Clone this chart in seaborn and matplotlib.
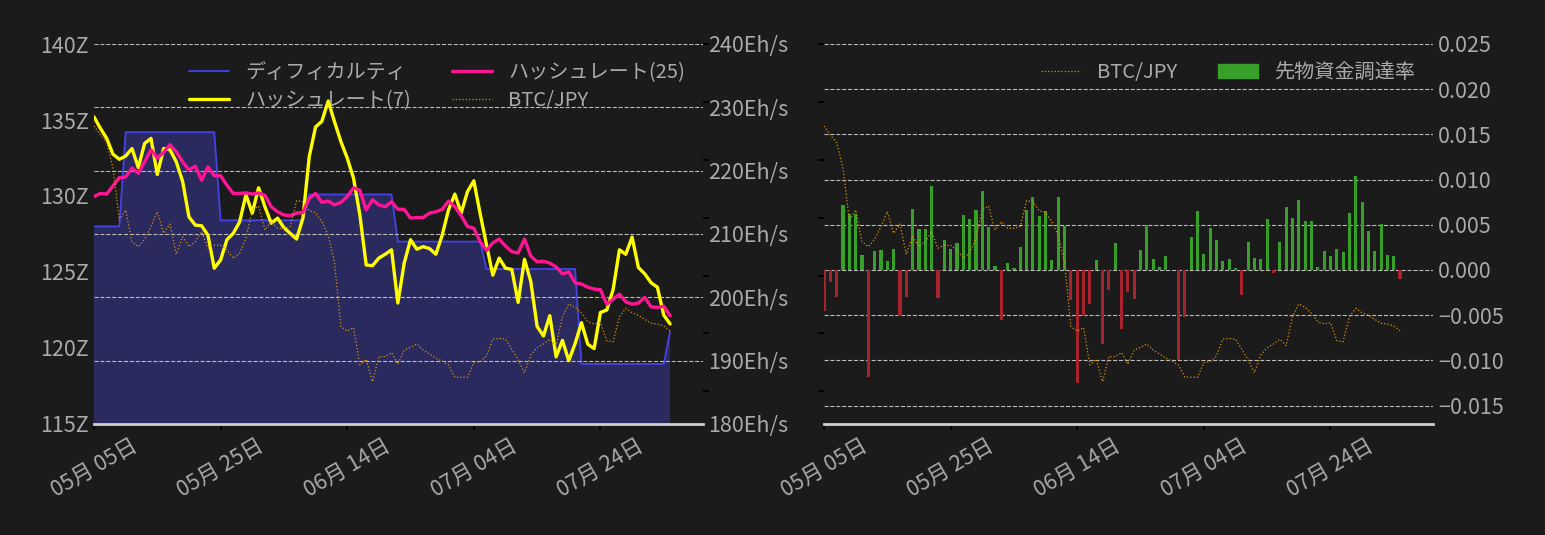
import pandas as pd
import matplotlib.pyplot as plt
import matplotlib.dates as mdates
from matplotlib.ticker import FuncFormatter, MultipleLocator
from matplotlib.patches import Patch
import seaborn as sns

# ── style ─────────────────────────────────────────────────────────────────────
BG = "#1b1b1b"
TXT = "#aaaaaa"
sns.set_theme(style="dark", rc={
    "figure.facecolor": BG, "axes.facecolor": BG, "savefig.facecolor": BG,
    "axes.edgecolor": BG, "text.color": TXT,
    "xtick.color": "black", "ytick.color": "black",
    "xtick.bottom": True, "ytick.left": True,
    "grid.color": "#bbbbbb", "grid.linestyle": "--", "grid.linewidth": 0.8,
})
plt.rcParams["font.family"] = ["Noto Sans CJK JP", "DejaVu Sans"]
FS_TICK = 15.5
FS_LEG = 14.5

# ── data (daily, from 05-05) ──────────────────────────────────────────────────
start = "2022-05-05"
difficulty = [
    128.0, 128.0, 128.0, 128.0, 128.0, 134.2, 134.2, 134.2, 134.2, 134.2,
    134.2, 134.2, 134.2, 134.2, 134.2, 134.2, 134.2, 134.2, 134.2, 134.2,
    128.4, 128.4, 128.4, 128.4, 128.4, 128.4, 128.4, 128.4, 128.4, 128.4,
    128.4, 128.4, 128.4, 128.4, 130.1, 130.1, 130.1, 130.1, 130.1, 130.1,
    130.1, 130.1, 130.1, 130.1, 130.1, 130.1, 130.1, 130.1, 127.0, 127.0,
    127.0, 127.0, 127.0, 127.0, 127.0, 127.0, 127.0, 127.0, 127.0, 127.0,
    127.0, 127.0, 125.2, 125.2, 125.2, 125.2, 125.2, 125.2, 125.2, 125.2,
    125.2, 125.2, 125.2, 125.2, 125.2, 125.2, 125.2, 118.95, 118.95, 118.95,
    118.95, 118.95, 118.95, 118.95, 118.95, 118.95, 118.95, 118.95, 118.95, 118.95,
    118.95, 121.07,
]
hashrate7 = [
    228.5, 226.7, 225.1, 222.6, 221.8, 222.3, 223.5, 220.5, 224.3, 225.1,
    219.4, 223.5, 223.3, 221.4, 218.3, 212.7, 211.4, 211.3, 209.8, 204.6,
    205.9, 209.1, 210.1, 211.9, 216.2, 213.3, 217.3, 214.3, 211.7, 212.5,
    211.0, 210.1, 209.2, 212.5, 222.2, 226.9, 227.8, 231.0, 227.7, 224.6,
    222.0, 218.8, 213.0, 205.1, 205.0, 206.2, 206.8, 207.5, 199.1, 205.4,
    209.1, 207.6, 208.0, 207.7, 206.8, 209.8, 213.8, 216.3, 213.3, 216.7,
    218.4, 213.2, 208.3, 203.5, 206.2, 204.6, 204.4, 199.2, 206.0, 202.5,
    195.4, 193.9, 197.1, 190.6, 193.2, 190.0, 192.7, 196.0, 192.6, 191.9,
    197.6, 198.0, 201.2, 207.5, 206.8, 209.5, 204.7, 203.7, 202.3, 201.6,
    197.2, 195.8,
]
hashrate25 = [
    215.9, 216.4, 216.3, 217.6, 218.9, 219.0, 220.4, 219.6, 221.4, 223.3,
    222.0, 222.9, 224.1, 223.0, 221.4, 220.1, 220.7, 218.5, 220.6, 219.2,
    219.2, 217.7, 216.4, 216.4, 216.5, 216.3, 216.5, 216.1, 214.3, 213.5,
    213.0, 212.9, 213.3, 213.4, 215.6, 216.4, 215.0, 215.2, 214.6, 215.0,
    215.9, 217.3, 216.9, 213.8, 215.4, 214.6, 214.3, 215.1, 213.9, 213.9,
    212.5, 212.6, 212.6, 213.3, 213.5, 213.9, 215.2, 214.3, 212.9, 211.2,
    210.9, 208.8, 207.4, 208.6, 209.2, 208.1, 207.2, 207.0, 209.2, 206.5,
    205.6, 205.7, 205.4, 204.8, 203.7, 204.0, 202.3, 202.1, 201.6, 201.3,
    201.2, 198.9, 199.7, 200.5, 199.3, 198.9, 199.1, 200.0, 198.5, 198.4,
    198.6, 197.1,
]
# BTC/JPY in 万円
btc_jpy = [
    479.2, 471.4, 464.8, 442.9, 398.0, 406.6, 379.3, 374.9, 381.3, 392.2,
    405.2, 386.5, 394.5, 368.4, 383.6, 374.9, 379.3, 387.9, 373.6, 376.2,
    376.2, 372.1, 364.9, 369.3, 382.2, 406.6, 410.1, 389.4, 396.5, 390.8,
    390.8, 392.2, 414.7, 413.8, 406.0, 404.3, 396.5, 385.0, 360.9, 305.9,
    302.1, 305.0, 272.8, 277.7, 258.4, 280.0, 280.0, 283.4, 273.4, 285.7,
    288.1, 290.9, 285.7, 282.3, 278.6, 276.2, 272.8, 262.2, 262.2, 262.2,
    274.8, 275.6, 280.6, 295.0, 295.8, 295.0, 286.3, 277.1, 266.1, 281.4,
    287.7, 290.9, 295.0, 289.5, 314.5, 325.5, 322.6, 317.4, 310.2, 308.2,
    309.3, 293.8, 292.9, 314.5, 321.7, 317.9, 315.7, 312.2, 308.8, 308.2,
    306.5, 302.4,
]
funding = [
    -0.00454, -0.00133, -0.00299, 0.00720, 0.00620, 0.00620, 0.00166, -0.01185, 0.00210, 0.00220,
    0.00100, 0.00232, -0.00509, -0.00299, 0.00675, 0.00454, 0.00454, 0.00930, -0.00310, 0.00332,
    0.00232, 0.00299, 0.00609, 0.00565, 0.00664, 0.00875, 0.00476, 0.00044, -0.00553, 0.00077,
    0.00022, 0.00255, 0.00664, 0.00808, 0.00598, 0.00653, 0.00110, 0.00808, 0.00487, -0.00332,
    -0.01251, -0.00513, -0.00376, 0.00110, -0.00819, -0.00221, 0.00299, -0.00653, -0.00244, -0.00321,
    0.00220, 0.00498, 0.00122, 0.00033, 0.00155, 0.00000, -0.01000, -0.00520, 0.00365, 0.00653,
    0.00177, 0.00465, 0.00332, 0.00100, 0.00122, 0.00022, -0.00273, 0.00310, 0.00133, 0.00122,
    0.00565, -0.00037, 0.00310, 0.00697, 0.00576, 0.00775, 0.00542, 0.00542, 0.00033, 0.00210,
    0.00155, 0.00232, 0.00199, 0.00631, 0.01040, 0.00753, 0.00432, 0.00210, 0.00509, 0.00166,
    0.00155, -0.00096,
]
dates = pd.date_range(start, periods=len(funding), freq="D")
tick_dates = pd.date_range(start, periods=5, freq="20D")
x_end = pd.Timestamp(start) + pd.Timedelta(days=96.2)

BLUE = "#4343e6"
FILL = "#2a2a5e"
YELLOW = "#ffff00"
PINK = "#ff1493"
ORANGE = "#d9930d"
GREEN = "#38a02a"
RED = "#a8232e"

fig, (ax, axr) = plt.subplots(1, 2, figsize=(15.45, 5.35), dpi=100)
fig.subplots_adjust(left=94 / 1545, right=1433 / 1545, bottom=111 / 535,
                    top=491 / 535, wspace=0.1987)


def style_x(a):
    a.set_xlim(pd.Timestamp(start), x_end)
    a.set_xticks(tick_dates)
    a.xaxis.set_major_formatter(mdates.DateFormatter("%m月 %d日"))
    plt.setp(a.get_xticklabels(), rotation=30, ha="center")
    a.tick_params(axis="x", labelcolor=TXT, labelsize=FS_TICK, length=4)
    for s in a.spines.values():
        s.set_visible(False)
    a.spines["bottom"].set_visible(True)
    a.spines["bottom"].set_color("#d0d0d0")
    a.spines["bottom"].set_linewidth(2)
    a.set_xlabel("")


def hide_spines(a):
    for s in a.spines.values():
        s.set_visible(False)


# ── left: difficulty + hashrate + BTC ─────────────────────────────────────────
ax.fill_between(dates, difficulty, 0, color=FILL, linewidth=0)
sns.lineplot(x=dates, y=difficulty, ax=ax, color=BLUE, linewidth=1.3)
h_diff = ax.lines[-1]
ax.set_ylim(115, 140)
ax.grid(False)
style_x(ax)

ax_h = ax.twinx()
sns.lineplot(x=dates, y=hashrate7, ax=ax_h, color=YELLOW, linewidth=2.4)
h_7 = ax_h.lines[-1]
sns.lineplot(x=dates, y=hashrate25, ax=ax_h, color=PINK, linewidth=2.4)
h_25 = ax_h.lines[-1]
ax_h.set_ylim(180, 240)
ax_h.yaxis.set_major_locator(MultipleLocator(10))
ax_h.yaxis.set_major_formatter(FuncFormatter(lambda v, p: f"{v:.0f}Eh/s"))
ax_h.tick_params(axis="y", labelcolor=TXT, labelsize=FS_TICK, length=0)
ax_h.grid(True, axis="y")
ax_h.set_ylabel("")
hide_spines(ax_h)

ax_b = ax.twinx()
sns.lineplot(x=dates, y=btc_jpy, ax=ax_b, color=ORANGE, linewidth=0.9,
             linestyle=":")
h_btc = ax_b.lines[-1]
ax_b.set_ylim(221.8, 550)
ax_b.yaxis.set_major_locator(MultipleLocator(50))
ax_b.tick_params(axis="y", labelright=False, length=4, color="black")
ax_b.set_ylabel("")
ax_b.grid(False)
hide_spines(ax_b)

# left axis labels (set after twinx)
ax.yaxis.tick_left()
ax.yaxis.set_major_locator(MultipleLocator(5))
ax.yaxis.set_major_formatter(FuncFormatter(lambda v, p: f"{v:.0f}Z"))
ax.tick_params(axis="y", labelleft=True, labelcolor=TXT, labelsize=FS_TICK,
               length=0)

ax.legend([h_diff, h_7, h_25, h_btc],
          ["ディフィカルティ", "ハッシュレート(7)", "ハッシュレート(25)", "BTC/JPY"],
          loc="upper right", ncol=2, frameon=False, fontsize=FS_LEG,
          labelcolor=TXT, labelspacing=0.35)

# ── right: funding rate + BTC ─────────────────────────────────────────────────
bar_colors = [GREEN if v >= 0 else RED for v in funding]
axr.bar(dates, funding, width=0.5, color=bar_colors, linewidth=0)
axr.set_ylim(-0.01704, 0.025)
axr.grid(True, axis="y")
style_x(axr)

axr_b = axr.twinx()
sns.lineplot(x=dates, y=btc_jpy, ax=axr_b, color=ORANGE, linewidth=0.9,
             linestyle=":")
hr_btc = axr_b.lines[-1]
axr_b.set_ylim(221.8, 550)
axr_b.yaxis.tick_left()
axr_b.yaxis.set_major_locator(MultipleLocator(50))
axr_b.tick_params(axis="y", labelleft=False, labelright=False, length=4,
                  color="black")
axr_b.set_ylabel("")
axr_b.grid(False)
hide_spines(axr_b)

# funding labels on the right (twinx resets them to the left)
axr.yaxis.tick_right()
axr.yaxis.set_major_locator(MultipleLocator(0.005))
axr.yaxis.set_major_formatter(
    FuncFormatter(lambda v, p: f"{v:.3f}".replace("-", "\u2212")))
axr.tick_params(axis="y", labelleft=False, labelright=True, labelcolor=TXT,
                labelsize=FS_TICK, length=0)

axr_b.legend([hr_btc, Patch(color=GREEN)], ["BTC/JPY", "先物資金調達率"],
             loc="upper right", ncol=2, frameon=False, fontsize=FS_LEG,
             labelcolor=TXT)

plt.savefig("out.png", dpi=100, facecolor=BG)
